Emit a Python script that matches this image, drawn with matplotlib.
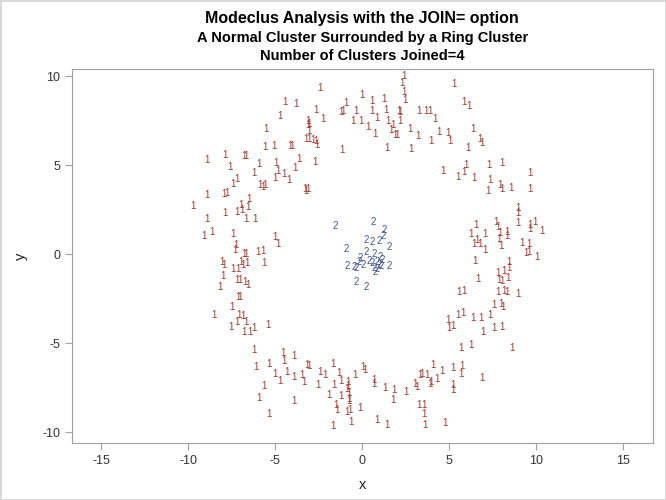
import matplotlib
matplotlib.use('Agg')
import matplotlib.pyplot as plt

plt.rcParams['font.family'] = ['Liberation Sans', 'DejaVu Sans']
plt.rcParams['axes.unicode_minus'] = False

# cluster 1: the ring (x, y)
ring_x = [
    -2.43, -0.02, -4.43, -3.81, -0.94, -1.13, -1.21, -2.66, -0.36, -4.73,
    -2.24, -0.52, -0.07, 0.30, -3.10, -3.05, -3.12, -3.05, -5.53, -3.24,
    -3.09, -2.86, -2.66, -2.63, -1.17, -5.61, -5.06, -4.14, -4.04, -8.95,
    -7.89, -6.78, -6.71, -7.63, -5.96, -4.96, -3.66, -2.74, -3.89, -4.84,
    -4.48, -6.21, -5.02, -4.20, -7.45, -7.22, -5.88, -5.73, -5.59, -3.28,
    -3.14,
    2.41, 2.26, 5.25, 2.37, 2.45, 0.53, 1.26, 0.53, 1.36, 2.13,
    2.18, 0.84, 1.45, 1.74, 2.17, 1.65, 1.88, 1.99, 0.73, 3.28,
    3.66, 3.91, 4.20, 2.74, 3.18, 3.95, 4.43, 4.94, 5.06, 5.82,
    6.11, 6.34, 6.78, 6.91, 6.09, 1.42, 2.80, 5.96, 5.86, 5.53,
    6.40, 4.66, 7.30, 8.06, 9.64, 7.36, 7.93, 8.03, 8.58, 9.64,
    7.24,
    -9.75, -8.95, -7.93, -7.80, -3.24, -8.95, -7.89, -7.22, -6.97, -6.91,
    -6.53, -6.57, -6.68, -6.15, -9.08, -8.64, -7.45, -5.00, -4.84, -7.26,
    -7.30, -6.82, -6.68, -5.98, -5.73, -8.06, -7.97, -7.45, -7.17, -6.97,
    -6.88, -6.63, -5.63, -8.03, -7.22, -7.01, -6.74, -6.57, -8.18, -7.17,
    -7.01, -7.49, -8.51, -7.07, -6.88,
    8.93, 8.97, 8.93, 6.53, 6.28, 7.05, 7.68, 7.83, 7.93, 7.87,
    8.35, 8.32, 9.64, 9.64, 9.94, 10.33, 6.40, 6.59, 6.78, 7.07,
    7.97, 9.21, 9.60, 9.41, 9.56, 10.07, 6.48, 8.41, 8.45, 8.16,
    8.39, 7.78, 7.87, 8.01, 6.67, 5.57, 5.86, 7.78, 8.16, 8.35,
    8.93, 7.59, 7.97, 8.12, 5.48, 5.80, 6.34, 6.82, 7.36, 4.90,
    -7.55, -7.22, -6.68, -6.78, -6.45, -6.21, -5.44, -6.25, -6.11, -5.34,
    -4.58, -4.48, -3.91, -5.02, -4.71, -4.35, -3.95, -3.47, -3.37, -3.20,
    -3.05, -5.63, -5.92, -3.91, -5.39, -2.57, -2.41, -2.14, -1.71, -1.36,
    -1.94, -1.61, -1.22, -0.84, -0.84, -0.90, -0.79, -1.22, -1.51, -1.45,
    -0.88, -0.71, -0.42, 0.06, 0.13, -0.13, -0.65, -1.71, -0.79, -0.75,
    4.96, 5.23, 6.95, 7.59, 8.06, 5.67, 6.25, 8.60, 0.65, 0.69,
    1.30, 1.84, 1.74, 2.51, 3.03, 3.12, 3.33, 3.41, 3.70, 4.04,
    3.89, 3.95, 4.29, 4.61, 5.23, 5.76, 5.67, 5.19, 5.19, 6.86,
    3.28, 3.52, 3.56, 0.84, 1.42, 3.60, 4.77,
]
ring_y = [
    9.33, 8.95, 8.54, 8.44, 8.48, 8.02, 7.96, 8.11, 8.02, 7.77,
    7.58, 7.46, 7.49, 7.12, 7.47, 7.30, 7.23, 6.93, 7.02, 6.46,
    6.46, 6.42, 6.33, 6.11, 5.83, 6.03, 6.08, 6.08, 6.08, 5.30,
    5.58, 5.54, 5.49, 4.87, 5.07, 5.11, 5.35, 5.17, 4.83, 4.65,
    4.51, 4.55, 4.27, 4.14, 3.95, 4.23, 3.89, 3.80, 3.89, 3.67,
    3.67,
    9.98, 9.61, 9.55, 9.10, 8.67, 8.58, 8.72, 8.05, 8.11, 8.05,
    7.98, 7.64, 7.46, 7.26, 7.46, 6.98, 6.70, 6.70, 6.74, 8.05,
    8.05, 8.05, 7.60, 7.02, 6.61, 6.37, 6.85, 6.80, 6.37, 8.52,
    8.30, 7.02, 6.48, 6.24, 5.96, 5.99, 5.90, 5.02, 4.61, 4.31,
    4.27, 4.65, 5.02, 5.15, 4.55, 4.17, 3.89, 3.65, 3.71, 3.67,
    3.56,
    2.71, 3.31, 3.37, 3.41, 3.54, 1.97, 2.34, 2.38, 2.75, 2.47,
    3.09, 2.66, 1.97, 1.97, 1.01, 1.25, 1.16, 0.97, 0.60, 0.51,
    0.26, 0.04, 0.04, 0.13, 0.19, -0.43, -0.62, -0.84, -0.84, -0.43,
    -0.62, -0.52, -0.52, -1.24, -1.46, -1.42, -1.56, -1.74, -1.84, -2.40,
    -2.40, -2.96, -3.43, -3.43, -3.48,
    2.57, 2.29, 1.76, 1.63, 1.16, 1.16, 1.81, 1.53, 1.20, 0.88,
    1.25, 1.01, 1.63, 1.39, 1.81, 1.29, 0.60, 0.79, 0.60, 0.26,
    0.45, 0.63, 0.60, 0.07, 0.13, -0.15, -0.39, -0.43, -0.80, -0.94,
    -1.31, -1.08, -1.46, -1.50, -1.37, -2.12, -2.08, -2.12, -2.08, -2.12,
    -2.26, -2.87, -2.77, -2.99, -3.39, -3.30, -3.58, -3.56, -3.39, -3.67,
    -4.08, -3.80, -3.80, -4.37, -4.37, -4.14, -3.95, -5.39, -6.33, -6.14,
    -5.52, -6.01, -5.71, -6.70, -7.13, -6.61, -6.89, -6.76, -7.17, -6.20,
    -6.28, -7.42, -8.07, -8.26, -8.99, -7.36, -6.61, -6.76, -6.14, -6.65,
    -7.88, -7.36, -7.13, -7.17, -7.40, -7.54, -7.77, -7.96, -8.48, -8.72,
    -8.86, -8.76, -6.76, -6.33, -6.52, -8.63, -9.42, -9.65, -8.11, -8.26,
    -4.17, -4.04, -4.37, -4.17, -4.08, -5.26, -5.07, -5.24, -7.08, -7.26,
    -7.51, -7.64, -8.20, -7.74, -7.26, -7.46, -6.80, -6.70, -6.76, -6.20,
    -7.26, -7.17, -6.98, -6.57, -6.39, -6.28, -6.70, -7.36, -7.64, -6.95,
    -8.48, -8.44, -8.95, -9.33, -9.61, -9.57, -9.46,
]

# cluster 2: the normal cluster in the middle
core_x = [
    -1.53, 0.63, 1.25, 1.21, -0.92, 0.23, 0.57, 0.96, 1.53, 0.25,
    0.67, 1.05, -0.10, -0.19, 0.39, 0.57, 0.86, 1.15, -0.86, -0.48,
    -0.33, 0.06, 0.67, 0.86, 1.09, 0.96, 1.57, -0.34, 0.23, 0.75,
]
core_y = [
    1.59, 1.81, 1.35, 1.03, 0.32, 0.79, 0.69, 0.73, 0.38, 0.10,
    0.00, -0.15, -0.24, -0.43, -0.39, -0.52, -0.43, -0.34, -0.66, -0.71,
    -0.80, -0.62, -0.80, -0.84, -0.66, -0.62, -0.67, -1.56, -1.84, -1.00,
]

x_ticks = [-15, -10, -5, 0, 5, 10, 15]
y_ticks = [-10, -5, 0, 5, 10]

red = '#A23A2E'
blue = '#445694'
grey = '#A0A0A0'

fig = plt.figure(figsize=(6.66, 5), dpi=100)
fig.patch.set_edgecolor('#D8D8D8')
fig.patch.set_linewidth(2)
ax = fig.add_axes([0.108, 0.114, 0.872, 0.748])

# each point is drawn as its cluster number
for x, y in zip(ring_x, ring_y):
    ax.text(x, y, '1', color=red, fontsize=7, ha='center', va='center')
for x, y in zip(core_x, core_y):
    ax.text(x, y, '2', color=blue, fontsize=7, ha='center', va='center')

ax.set_xlim(-16.7, 16.7)
ax.set_ylim(-10.6, 10.4)
ax.set_xticks(x_ticks)
ax.set_yticks(y_ticks)
ax.tick_params(colors=grey, labelcolor='#333333', labelsize=9, length=5)
for s in ax.spines.values():
    s.set_color(grey)

ax.set_xlabel('x', fontsize=10.5, color='#222222', labelpad=8)
ax.set_ylabel('y', fontsize=10.5, color='#222222', labelpad=10)

cx = 0.544
fig.text(cx, 1 - 19 / 500, 'Modeclus Analysis with the JOIN= option',
         ha='center', va='center', fontsize=11.5, fontweight='bold')
fig.text(cx, 1 - 38 / 500, 'A Normal Cluster Surrounded by a Ring Cluster',
         ha='center', va='center', fontsize=10.5, fontweight='bold')
fig.text(cx, 1 - 56 / 500, 'Number of Clusters Joined=4',
         ha='center', va='center', fontsize=10.5, fontweight='bold')

fig.savefig('out.png', dpi=100)
